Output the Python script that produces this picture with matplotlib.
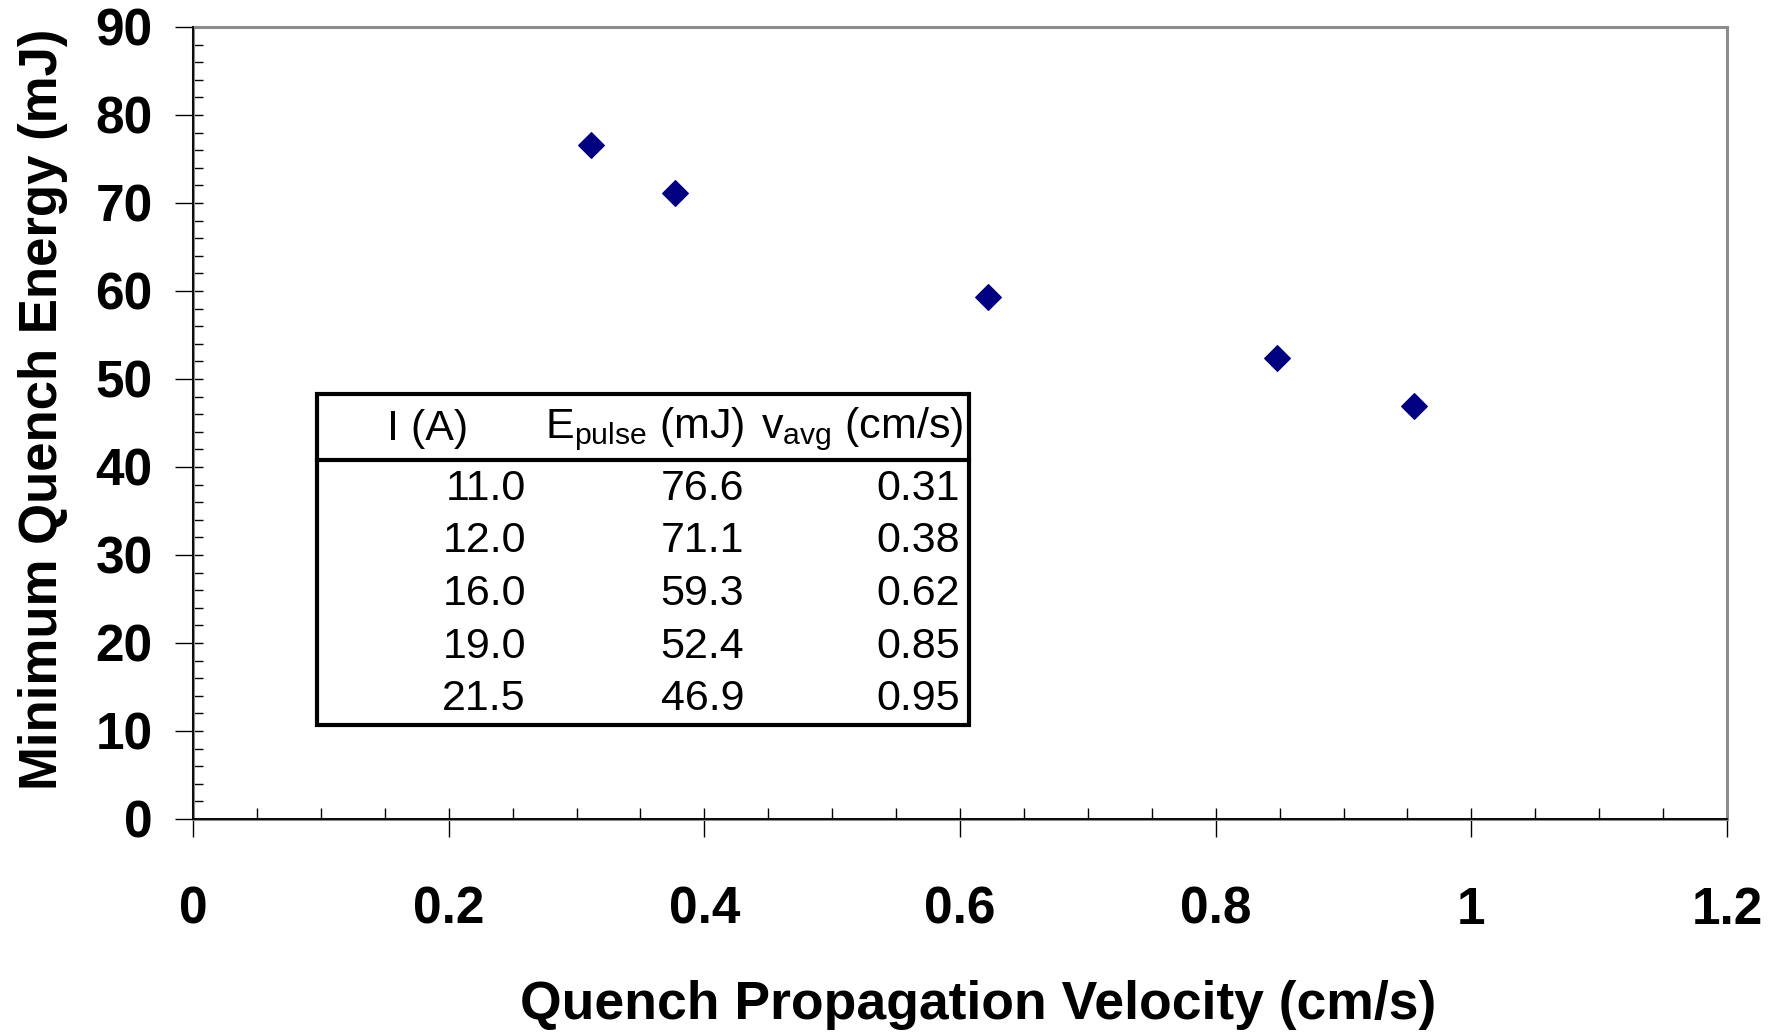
import matplotlib
matplotlib.use("Agg")
import matplotlib.pyplot as plt
from matplotlib.ticker import MultipleLocator
from matplotlib.patches import Rectangle
from matplotlib.lines import Line2D

plt.rcParams['font.family'] = ['Liberation Sans', 'DejaVu Sans']
plt.rcParams['mathtext.fontset'] = 'custom'
plt.rcParams['mathtext.rm'] = 'Liberation Sans'
plt.rcParams['mathtext.it'] = 'Liberation Sans'

# Data (markers)
velocity = [0.311, 0.377, 0.622, 0.848, 0.955]
energy = [76.6, 71.1, 59.3, 52.4, 46.9]
# Table contents as printed
table_current = ["11.0", "12.0", "16.0", "19.0", "21.5"]
table_energy = ["76.6", "71.1", "59.3", "52.4", "46.9"]
table_velocity = ["0.31", "0.38", "0.62", "0.85", "0.95"]
table_headers = ['I (A)', r'E$_{\mathrm{pulse}}$ (mJ)', r'v$_{\mathrm{avg}}$ (cm/s)']
x_ticks = [0, 0.2, 0.4, 0.6, 0.8, 1.0, 1.2]
x_ticklabels = ["0", "0.2", "0.4", "0.6", "0.8", "1", "1.2"]
y_ticks = [0, 10, 20, 30, 40, 50, 60, 70, 80, 90]

W, H = 1780, 1032
fig = plt.figure(figsize=(W / 100, H / 100), dpi=100)
ax = fig.add_axes([193 / W, 1 - 819 / H, (1727 - 193) / W, (819 - 27) / H])

ax.scatter(velocity, energy, marker='D', s=13.0 ** 2, color='#000080', zorder=5, clip_on=False)

ax.set_xlim(0, 1.2)
ax.set_ylim(0, 90)
ax.set_xticks(x_ticks)
ax.set_xticklabels(x_ticklabels)
ax.set_yticks(y_ticks)
ax.xaxis.set_minor_locator(MultipleLocator(0.05))
ax.yaxis.set_minor_locator(MultipleLocator(2))
ax.xaxis.remove_overlapping_locs = False
ax.yaxis.remove_overlapping_locs = False

ax.tick_params(axis='x', which='major', direction='out', length=13, width=1.0, color='black',
               labelsize=37, pad=35)
ax.tick_params(axis='y', which='major', direction='out', length=13, width=1.0, color='black',
               labelsize=37, pad=16)
ax.tick_params(axis='x', which='minor', direction='in', length=8, width=1.0, color='black')
ax.tick_params(axis='y', which='minor', direction='in', length=7.5, width=1.0, color='black')
for lab in ax.get_xticklabels() + ax.get_yticklabels():
    lab.set_fontweight('bold')

for s in ax.spines.values():
    s.set_color('#8c8c8c')
    s.set_linewidth(2.2)
ax.axhline(0, color='black', lw=1.3, zorder=4, clip_on=False)
ax.axvline(0, color='black', lw=1.3, zorder=4, clip_on=False)

ax.set_xlabel('Quench Propagation Velocity (cm/s)', fontsize=38.5, fontweight='bold', labelpad=33)
ax.set_ylabel('Minimum Quench Energy (mJ)', fontsize=38, fontweight='bold', labelpad=20)
ax.xaxis.label.set_x(0.512)
ax.yaxis.label.set_y(0.517)

# Table (in figure pixel coordinates)
def fx(px):
    return px / W

def fy(py):
    return 1 - py / H

tbl_left, tbl_right, tbl_top, tbl_bot, tbl_hdr = 317, 969, 394, 725, 460
fig.add_artist(Rectangle((fx(tbl_left), fy(tbl_bot)), fx(tbl_right) - fx(tbl_left),
                         fy(tbl_top) - fy(tbl_bot), transform=fig.transFigure,
                         facecolor='white', edgecolor='black', lw=3, zorder=10))
fig.add_artist(Line2D([fx(tbl_left), fx(tbl_right)], [fy(tbl_hdr), fy(tbl_hdr)],
                      transform=fig.transFigure, color='black', lw=3, zorder=11))

tsize = 31
hdr_y = 429
for cx, htxt in zip([428, 645, 862], table_headers):
    fig.text(fx(cx), fy(hdr_y), htxt, ha='center', va='center', fontsize=tsize, zorder=12)

row_y = [489, 541, 594, 647, 699]
col_right = [526, 744, 960]
for i in range(len(table_current)):
    vals = [table_current[i], table_energy[i], table_velocity[i]]
    for cx, v in zip(col_right, vals):
        fig.text(fx(cx), fy(row_y[i]), v, ha='right', va='center', fontsize=tsize, zorder=12)

fig.savefig('out.png', dpi=100)
